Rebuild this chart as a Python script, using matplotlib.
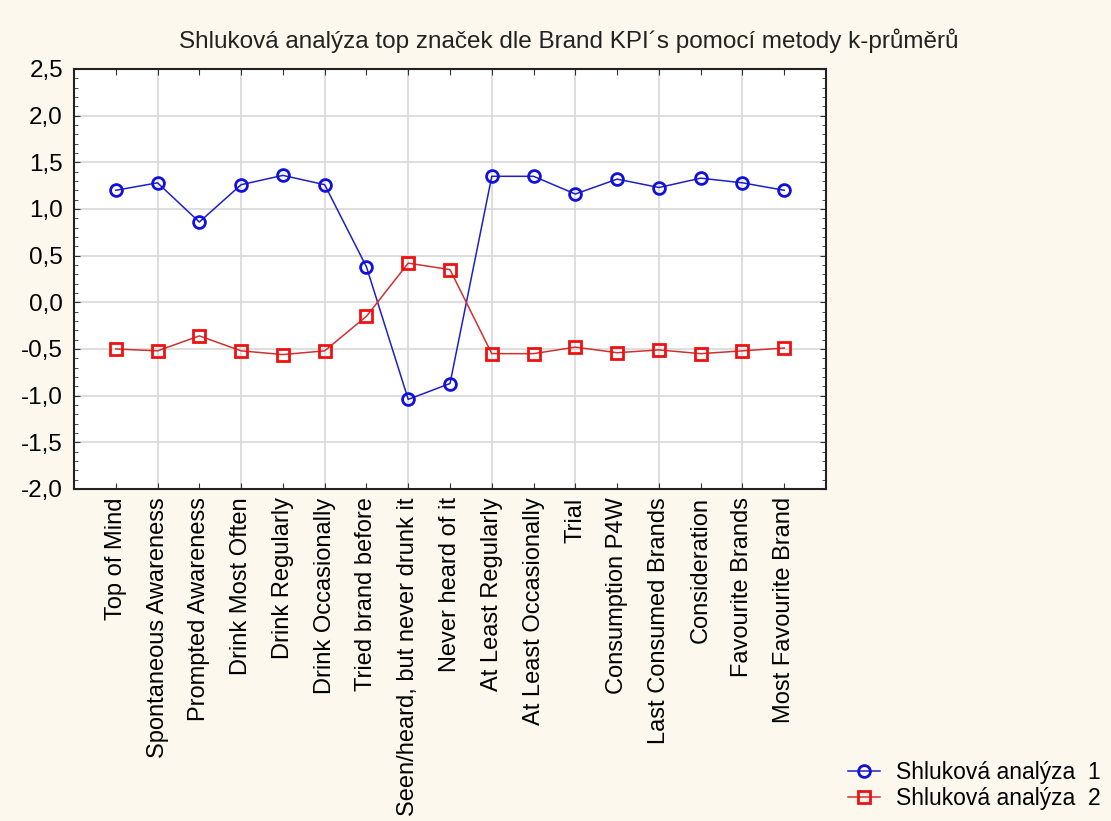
import matplotlib.pyplot as plt
import numpy as np
from matplotlib.ticker import MultipleLocator

plt.rcParams['font.family'] = ['Liberation Sans', 'DejaVu Sans']

categories = ['Top of Mind', 'Spontaneous Awareness', 'Prompted Awareness',
              'Drink Most Often', 'Drink Regularly', 'Drink Occasionally',
              'Tried brand before', 'Seen/heard, but never drunk it',
              'Never heard of it', 'At Least Regularly', 'At Least Occasionally',
              'Trial', 'Consumption P4W', 'Last Consumed Brands', 'Consideration',
              'Favourite Brands', 'Most Favourite Brand']
cluster1 = [1.20, 1.28, 0.86, 1.26, 1.36, 1.26, 0.38, -1.04, -0.87,
            1.35, 1.35, 1.16, 1.32, 1.23, 1.33, 1.28, 1.20]
cluster2 = [-0.50, -0.52, -0.36, -0.52, -0.56, -0.52, -0.15, 0.42, 0.35,
            -0.55, -0.55, -0.48, -0.54, -0.51, -0.55, -0.52, -0.49]

bg = '#fcf8ee'
fig = plt.figure(figsize=(11.11, 8.21), dpi=100, facecolor=bg)
ax = fig.add_axes([0.0666, 0.4044, 0.6769, 0.5116])
ax.set_facecolor('white')

x = np.arange(len(categories))
ax.plot(x, cluster1, color='#2020c0', lw=1.1, marker='o', ms=8.5, mfc='none',
        mec='#1010e0', mew=2, label='Shluková analýza  1')
ax.plot(x, cluster2, color='#d03030', lw=1.1, marker='s', ms=8, mfc='none',
        mec='#f01010', mew=2, label='Shluková analýza  2')

ax.set_xlim(-1, len(categories))
ax.set_ylim(-2.0, 2.5)

# all categories labeled; vertical grid only at every other one
ax.set_xticks(x)
ax.set_xticklabels(categories, rotation=90, fontsize=17)
for xv in x[1::2]:
    ax.axvline(xv, color='#d8d8d8', lw=1.2, zorder=0)

ax.yaxis.set_minor_locator(MultipleLocator(0.1))
yt = np.arange(-2.0, 2.51, 0.5)
ax.set_yticks(yt)
ax.set_yticklabels([f'{v:.1f}'.replace('.', ',') for v in yt], fontsize=17.5)
ax.grid(axis='y', color='#d8d8d8', lw=1.2, zorder=0)

ax.tick_params(axis='both', which='both', direction='in', top=True, right=True,
               color='#333333')
ax.tick_params(axis='y', which='major', length=4, pad=8)
ax.tick_params(axis='y', which='minor', length=3)
ax.tick_params(axis='x', which='major', length=4, pad=6)
for s in ax.spines.values():
    s.set_color('#222222')
    s.set_linewidth(1.5)

fig.text(0.512, 0.951, 'Shluková analýza top značek dle Brand KPI´s pomocí metody k-průměrů',
         ha='center', va='center', fontsize=17.5, color='#222222')

fig.legend(loc='lower left', bbox_to_anchor=(0.745, -0.012), frameon=False,
           fontsize=16.5, handlelength=1.4, handletextpad=0.7, labelspacing=0.15)

fig.savefig('out.png', dpi=100, facecolor=bg)
